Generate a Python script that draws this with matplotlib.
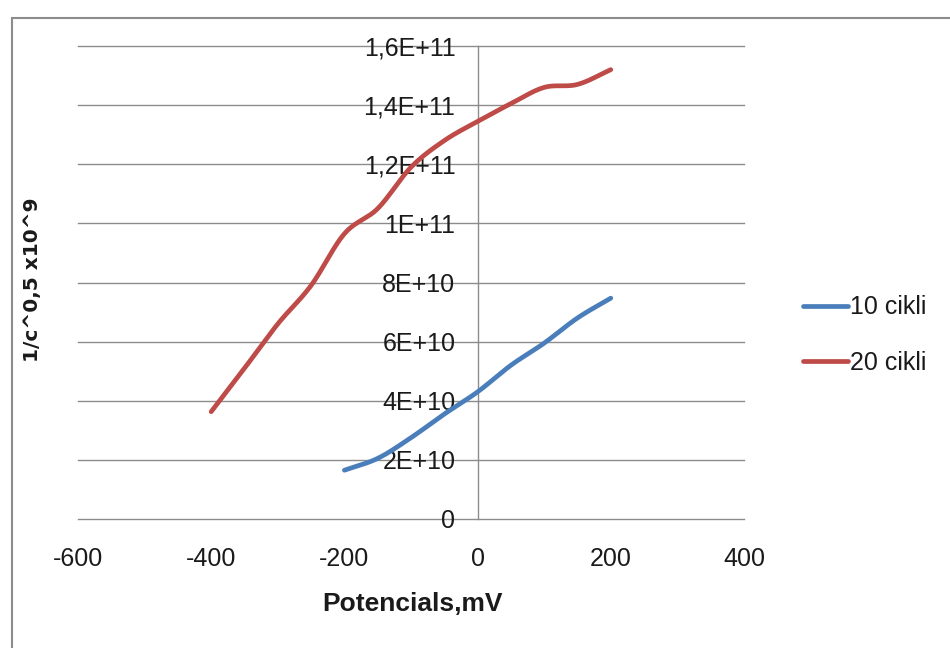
import numpy as np
import matplotlib
matplotlib.use("Agg")
import matplotlib.pyplot as plt
from matplotlib.ticker import FuncFormatter, MultipleLocator
from matplotlib.patches import Rectangle

plt.rcParams['axes.unicode_minus'] = False
plt.rcParams['font.family'] = ['Liberation Sans Narrow', 'Liberation Sans', 'DejaVu Sans']

# Data (mV, value in units of 1e9)
x_10 = [-200, -150, -100, -50, 0, 50, 100, 150, 200]
y_10 = [16.5, 20.5, 27.5, 35.5, 43.0, 52.0, 59.5, 68.0, 74.7]
x_20 = [-400, -350, -300, -250, -200, -150, -100, -50, 0, 50, 100, 150, 200]
y_20 = [36.3, 51.0, 66.0, 79.0, 96.5, 105.0, 119.0, 128.0, 134.5, 140.5, 146.0, 147.0, 152.0]
series_labels = ["10 cikli", "20 cikli"]
series_colors = ["#4a7ebb", "#be4b48"]
x_ticks = [-600, -400, -200, 0, 200, 400]
scale = 1e9


def catmull_rom(x, y, n=24):
    x = np.asarray(x, float); y = np.asarray(y, float)
    px = np.concatenate([[2 * x[0] - x[1]], x, [2 * x[-1] - x[-2]]])
    py = np.concatenate([[2 * y[0] - y[1]], y, [2 * y[-1] - y[-2]]])
    ox, oy = [], []
    t = np.linspace(0, 1, n, endpoint=False)
    for i in range(1, len(px) - 2):
        for arr, out in ((px, ox), (py, oy)):
            p0, p1, p2, p3 = arr[i - 1], arr[i], arr[i + 1], arr[i + 2]
            out.extend(0.5 * ((2 * p1) + (-p0 + p2) * t + (2 * p0 - 5 * p1 + 4 * p2 - p3) * t ** 2
                              + (-p0 + 3 * p1 - 3 * p2 + p3) * t ** 3))
    ox.append(x[-1]); oy.append(y[-1])
    return np.array(ox), np.array(oy)


fig = plt.figure(figsize=(9.5, 6.48), dpi=100)
ax = fig.add_axes([78 / 950, 1 - 519 / 648, (744 - 78) / 950, (519 - 46) / 648])

for xs, ys, lab, col in ((x_10, y_10, series_labels[0], series_colors[0]),
                         (x_20, y_20, series_labels[1], series_colors[1])):
    sx, sy = catmull_rom(xs, ys)
    ax.plot(sx, sy * scale, color=col, lw=3.4, label=lab, solid_capstyle='round', zorder=3)

ax.set_xlim(-600, 400)
ax.set_ylim(0, 1.6e11)
ax.set_xticks(x_ticks)
ax.yaxis.set_major_locator(MultipleLocator(2e10))


def yfmt(v, pos):
    if v == 0:
        return "0"
    e = int(np.floor(np.log10(abs(v)) + 1e-9))
    m = v / 10 ** e
    ms = ("%.1f" % m).rstrip('0').rstrip('.').replace('.', ',')
    return "%sE+%d" % (ms, e)


ax.yaxis.set_major_formatter(FuncFormatter(yfmt))

for s in ('top', 'right', 'bottom'):
    ax.spines[s].set_visible(False)
ax.spines['left'].set_position(('data', 0))
ax.spines['left'].set_color('#8c8c8c')
ax.spines['left'].set_linewidth(1.0)
ax.yaxis.grid(True, color='#8c8c8c', lw=1.0, zorder=0)
ax.set_axisbelow(True)
for gl in ax.yaxis.get_gridlines():
    gl.set_clip_on(False)
ax.tick_params(axis='y', length=0, pad=16, labelsize=18, labelcolor='#1a1a1a')
ax.tick_params(axis='x', length=0, pad=20, labelsize=18, labelcolor='#1a1a1a')

fig.text(33 / 950, 1 - 280 / 648, "1/c^0,5 x10^9", rotation=90, ha='center', va='center',
         fontsize=14.5, fontweight='bold', family='DejaVu Sans', color='#1a1a1a')
fig.text(412 / 950, 1 - 604 / 648, "Potencials,mV", ha='center', va='center',
         fontsize=19, fontweight='bold', color='#1a1a1a')

leg = ax.legend(loc='center left', bbox_to_anchor=(803 / 950, 1 - 335 / 648),
                bbox_transform=fig.transFigure, frameon=False, fontsize=18,
                handlelength=1.8, handletextpad=0.1, labelspacing=1.25,
                borderpad=0, borderaxespad=0)
for t in leg.get_texts():
    t.set_color('#1a1a1a')

fig.patches.append(Rectangle((12 / 950, -0.1), 1.0, 1 - 18 / 648 + 0.1, transform=fig.transFigure,
                             fill=False, edgecolor='#8c8c8c', lw=1.5))

fig.savefig("out.png", dpi=100)
